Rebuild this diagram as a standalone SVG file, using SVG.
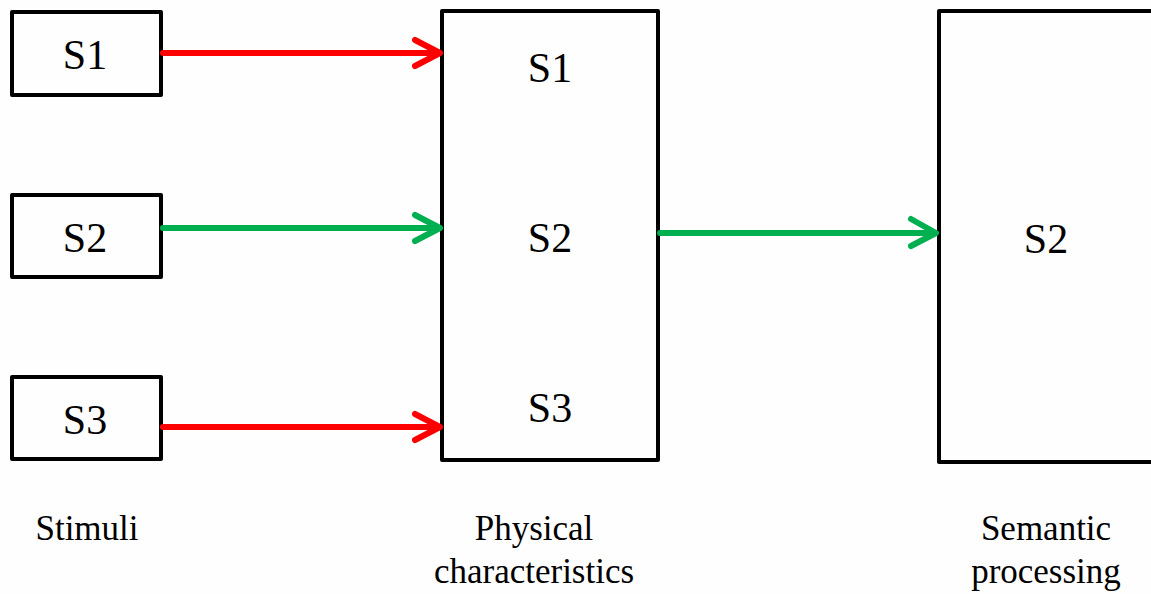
<svg xmlns="http://www.w3.org/2000/svg" width="1151" height="594" viewBox="0 0 1151 594">
  <style>
    .box { fill: #fefefe; stroke: #000; stroke-width: 4; stroke-linejoin: round; }
    .lbl { font-family: "Liberation Serif", "Times New Roman", serif; font-size: 42px; fill: #000; text-anchor: middle; }
    .cap { font-family: "Liberation Serif", "Times New Roman", serif; font-size: 35px; fill: #000; text-anchor: middle; }
    .red { stroke: #ff0000; stroke-width: 6; fill: none; stroke-linecap: round; stroke-linejoin: round; }
    .green { stroke: #00b050; stroke-width: 6; fill: none; stroke-linecap: round; stroke-linejoin: round; }
  </style>
  <rect width="1151" height="594" fill="#fefefe"/>

  <!-- stimuli -->
  <g id="stim-s1">
    <rect class="box" x="12" y="12" width="149" height="83"/>
    <text class="lbl" x="85" y="69">S1</text>
  </g>
  <g id="stim-s2">
    <rect class="box" x="12" y="195" width="149" height="82"/>
    <text class="lbl" x="85" y="252">S2</text>
  </g>
  <g id="stim-s3">
    <rect class="box" x="12" y="377" width="149" height="82"/>
    <text class="lbl" x="85" y="434">S3</text>
  </g>

  <!-- physical characteristics stage -->
  <g id="physical">
    <rect class="box" x="442" y="11" width="216" height="449"/>
    <text class="lbl" x="550" y="82">S1</text>
    <text class="lbl" x="550" y="252">S2</text>
    <text class="lbl" x="550" y="422">S3</text>
  </g>

  <!-- semantic processing stage -->
  <g id="semantic">
    <rect class="box" x="939" y="11" width="230" height="451"/>
    <text class="lbl" x="1046" y="253">S2</text>
  </g>

  <!-- connectors -->
  <g id="connectors">
    <path class="red" d="M163 53 H439 M415 40 L440 53 L415 66"/>
    <path class="green" d="M163 228 H439 M415 215 L440 228 L415 241"/>
    <path class="red" d="M163 427 H439 M415 414 L440 427 L415 440"/>
    <path class="green" d="M660 233 H935 M911 219 L936 233 L911 246"/>
  </g>

  <!-- stage captions -->
  <g id="captions">
    <text class="cap" x="87" y="540">Stimuli</text>
    <text class="cap" x="534" y="540">Physical</text>
    <text class="cap" x="534" y="583">characteristics</text>
    <text class="cap" x="1046" y="540">Semantic</text>
    <text class="cap" x="1046" y="583">processing</text>
  </g>
</svg>
